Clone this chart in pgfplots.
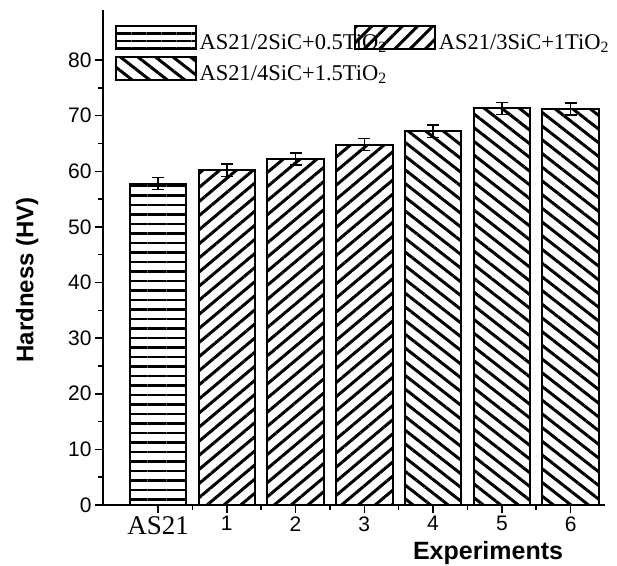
\documentclass[border=0pt]{standalone}
\usepackage{fontspec}
\setmainfont{Liberation Serif}
\setsansfont{Liberation Sans}
\usepackage{pgfplots}
\pgfplotsset{compat=1.18}
\usetikzlibrary{patterns.meta}
\begin{document}
\begin{tikzpicture}
\begin{axis}[
  name=ax,
  scale only axis, width=502pt, height=495pt,
  xmin=-0.8, xmax=6.5, ymin=0, ymax=89,
  axis x line=bottom, axis y line=left,
  axis line style={-, line width=1.6pt, black},
  tick align=outside,
  major tick length=8pt, minor tick length=5pt,
  every tick/.style={black, line width=1.5pt},
  xtick={0,1,2,3,4,5,6},
  xticklabels={{\rmfamily\fontsize{27}{27}\selectfont AS21},1,2,3,4,5,6},
  minor x tick num=1,
  ytick={0,10,20,30,40,50,60,70,80},
  minor y tick num=1,
  ticklabel style={font=\sffamily\fontsize{21}{21}\selectfont},
  /pgf/number format/assume math mode=true,
  xlabel={Experiments}, ylabel={Hardness (HV)},
  xlabel style={font=\sffamily\bfseries\fontsize{25}{25}\selectfont, at={(axis description cs:0.767,0)}, anchor=north, yshift=-36pt, inner sep=0pt},
  ylabel style={font=\sffamily\bfseries\fontsize{24}{24}\selectfont, at={(axis description cs:-0.151,0.455)}, anchor=center, inner sep=0pt},
  ybar, bar width=0.82,
  error bars/y dir=both, error bars/y explicit,
  error bars/error mark options={rotate=90, mark size=6pt, line width=1.5pt, black},
  error bars/error bar style={line width=1.5pt, black},
  legend columns=2,
  legend style={at={(axis description cs:0.0239,0.972)}, anchor=north west, draw=none, fill=none, inner sep=0pt,
    font=\rmfamily\fontsize{22.5}{22.5}\selectfont, nodes={inner sep=0pt}, row sep=5pt,
    /tikz/every odd column/.style={column sep=2pt},
    /tikz/every even column/.style={column sep=-33pt}},
]
\addplot[draw=black, line width=2pt, bar shift=0pt,
  pattern={Lines[angle=0,distance=9.5pt,line width=2.4pt]},
  legend image code/.code={\draw[draw=black, line width=2pt, pattern={Lines[angle=0,distance=7.5pt,line width=2.4pt]}] (0pt,-6pt) rectangle (80pt,17pt);}]
  table[x=x, y=y, y error=e] {
x y e
0 57.8 1.1
};
\addlegendentry{AS21/2SiC+0.5TiO\textsubscript{2}}
\addplot[draw=black, line width=2pt, bar shift=0pt,
  pattern={Lines[angle=40,distance=10.8pt,line width=3pt]},
  legend image code/.code={\draw[draw=black, line width=2pt, pattern={Lines[angle=45,distance=10.8pt,line width=3pt]}] (0pt,-6pt) rectangle (80pt,17pt);}]
  table[x=x, y=y, y error=e] {
x y e
1 60.2 1.1
2 62.2 1.1
3 64.8 1.1
};
\addlegendentry{AS21/3SiC+1TiO\textsubscript{2}}
\addplot[draw=black, line width=2pt, bar shift=0pt,
  pattern={Lines[angle=-38,distance=10.8pt,line width=3pt]},
  legend image code/.code={\draw[draw=black, line width=2pt, pattern={Lines[angle=-38,distance=10.8pt,line width=3pt]}] (0pt,-6pt) rectangle (80pt,17pt);}]
  table[x=x, y=y, y error=e] {
x y e
4 67.2 1.1
5 71.3 1.1
6 71.2 1.1
};
\addlegendentry{AS21/4SiC+1.5TiO\textsubscript{2}}
\end{axis}
\path ([shift={(-103pt,-61pt)}]ax.south west) rectangle ([shift={(12pt,10pt)}]ax.north east);
\end{tikzpicture}
\end{document}
